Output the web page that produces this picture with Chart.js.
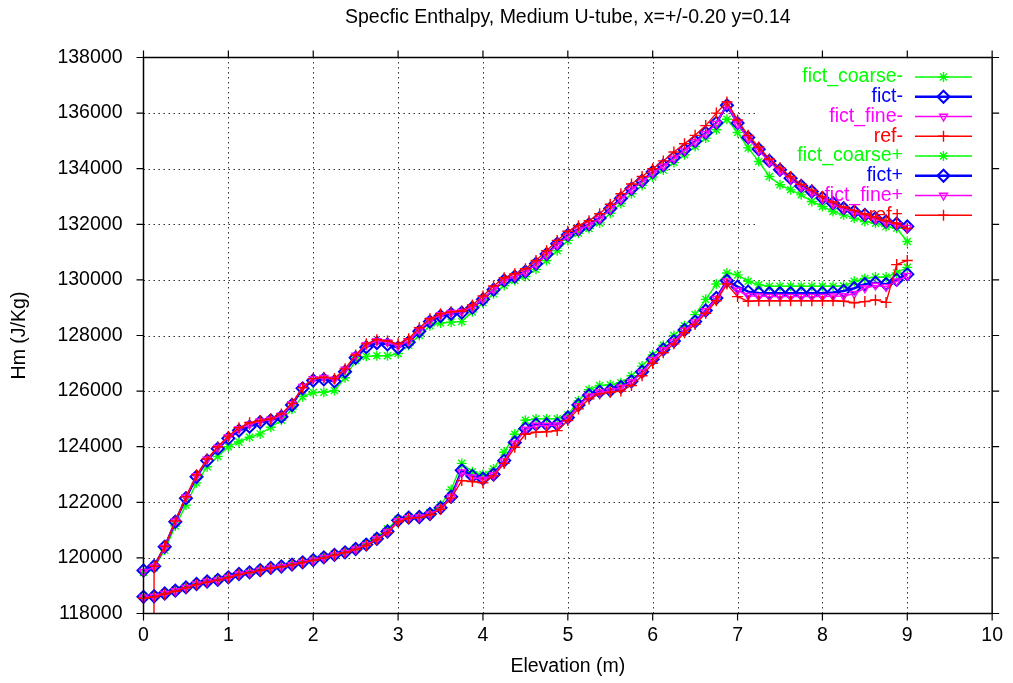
<!DOCTYPE html>
<html>
<head>
<meta charset="utf-8">
<title>Specfic Enthalpy, Medium U-tube</title>
<script src="https://cdn.jsdelivr.net/npm/chart.js@4.4.1/dist/chart.umd.min.js"></script>
<style>
  html, body { margin: 0; padding: 0; background: #fff; }
  #wrap { width: 1013px; height: 683px; }
</style>
</head>
<body>
<div id="wrap"><canvas id="enthalpyChart" width="1013" height="683"></canvas></div>
<script>
const chartTitle = 'Specfic Enthalpy, Medium U-tube, x=+/-0.20 y=0.14';
const xTitle = 'Elevation (m)';
const yTitle = 'Hm (J/Kg)';

const xTicks = [0, 1, 2, 3, 4, 5, 6, 7, 8, 9, 10];
const yTicks = [118000, 120000, 122000, 124000, 126000, 128000, 130000, 132000, 134000, 136000, 138000];

const elevation = [
  0, 0.125, 0.25, 0.375, 0.5, 0.625, 0.75, 0.875,
  1, 1.125, 1.25, 1.375, 1.5, 1.625, 1.75, 1.875,
  2, 2.125, 2.25, 2.375, 2.5, 2.625, 2.75, 2.875,
  3, 3.125, 3.25, 3.375, 3.5, 3.625, 3.75, 3.875,
  4, 4.125, 4.25, 4.375, 4.5, 4.625, 4.75, 4.875,
  5, 5.125, 5.25, 5.375, 5.5, 5.625, 5.75, 5.875,
  6, 6.125, 6.25, 6.375, 6.5, 6.625, 6.75, 6.875,
  7, 7.125, 7.25, 7.375, 7.5, 7.625, 7.75, 7.875,
  8, 8.125, 8.25, 8.375, 8.5, 8.625, 8.75, 8.875,
  9
];

const fictCoarseMinus = [
  119480, 119640, 120280, 121150, 121900, 122700, 123280, 123650,
  124000, 124170, 124340, 124460, 124700, 124950, 125350, 125800,
  125950, 125960, 126020, 126480, 127100, 127250, 127270, 127270,
  127350, 127650, 128000, 128350, 128450, 128480, 128500, 128850,
  129180, 129500, 129800, 129980, 130120, 130380, 130700, 131050,
  131420, 131680, 131850, 132050, 132400, 132750, 133100, 133400,
  133700, 133950, 134220, 134500, 134800, 135100, 135400, 135780,
  135300, 134750, 134260, 133720, 133420, 133240, 133060, 132820,
  132640, 132460, 132340, 132220, 132100, 132040, 131920, 131860,
  131380
];

const fictMinus = [
  119550, 119700, 120400, 121300, 122150, 122920, 123500, 123930,
  124300, 124580, 124720, 124880, 124950, 125080, 125500, 126100,
  126380, 126420, 126350, 126700, 127200, 127580, 127730, 127680,
  127560, 127760, 128150, 128500, 128700, 128780, 128820, 129000,
  129300, 129650, 129980, 130120, 130300, 130580, 130930, 131300,
  131620, 131820, 132000, 132230, 132570, 132930, 133280, 133560,
  133880, 134120, 134400, 134690, 134990, 135290, 135650, 136280,
  135640, 135120, 134700, 134280, 133960, 133660, 133380, 133180,
  132950, 132760, 132580, 132460, 132340, 132220, 132100, 132020,
  131920
];

const fictFineMinus = [
  119500, 119680, 120380, 121320, 122180, 122950, 123540, 123960,
  124350, 124640, 124800, 124920, 124980, 125120, 125540, 126160,
  126440, 126480, 126420, 126780, 127280, 127660, 127800, 127760,
  127620, 127800, 128200, 128540, 128740, 128820, 128860, 129020,
  129320, 129660, 129980, 130120, 130280, 130560, 130900, 131260,
  131580, 131790, 131980, 132200, 132540, 132900, 133250, 133530,
  133850, 134090, 134370, 134660, 134960, 135260, 135620, 136320,
  135600, 135080, 134660, 134240, 133920, 133620, 133340, 133140,
  132910, 132720, 132540, 132420, 132300, 132180, 132060, 131980,
  131880
];

const refMinus = [
  0, 119700, 120420, 121330, 122200, 122980, 123560, 124000,
  124380, 124680, 124860, 124940, 125000, 125180, 125560, 126120,
  126450, 126500, 126450, 126800, 127300, 127700, 127850, 127800,
  127700, 127880, 128280, 128600, 128780, 128850, 128880, 129100,
  129420, 129780, 130080, 130220, 130400, 130700, 131050, 131420,
  131750, 131950, 132130, 132380, 132720, 133100, 133450, 133720,
  134000, 134280, 134600, 134900, 135200, 135550, 136000, 136400,
  135750, 135200, 134780, 134350, 134030, 133720, 133440, 133230,
  133000, 132800, 132620, 132500, 132370, 132250, 132130, 132030,
  131850
];

const fictCoarsePlus = [
  118620, 118650, 118740, 118840, 118960, 119080, 119170, 119240,
  119330, 119440, 119500, 119580, 119660, 119710, 119780, 119860,
  119950, 120050, 120140, 120230, 120350, 120520, 120750, 121050,
  121400, 121480, 121500, 121620, 121900, 122450, 123400, 123100,
  123000, 123200, 123800, 124450, 124950, 125000, 125000, 125000,
  125150, 125650, 126050, 126200, 126230, 126300, 126550, 126900,
  127300, 127650, 128000, 128350, 128750, 129300, 129850, 130250,
  130180, 129950, 129820, 129770, 129770, 129770, 129770, 129770,
  129770, 129770, 129780, 129950, 130050, 130100, 130100, 130250,
  130450
];

const fictPlus = [
  118600, 118620, 118720, 118820, 118940, 119060, 119150, 119210,
  119300, 119420, 119480, 119560, 119640, 119690, 119760, 119840,
  119920, 120020, 120110, 120200, 120320, 120480, 120690, 120950,
  121350, 121450, 121470, 121580, 121800, 122200, 123150, 122950,
  122850, 123000, 123500, 124150, 124650, 124800, 124800, 124800,
  125050, 125500, 125850, 125980, 126030, 126150, 126350, 126700,
  127150, 127500, 127800, 128200, 128500, 128900, 129350, 129970,
  129760, 129580, 129530, 129520, 129520, 129520, 129520, 129520,
  129530, 129550, 129600, 129700, 129850, 129900, 129850, 130000,
  130200
];

const fictFinePlus = [
  118580, 118610, 118710, 118810, 118930, 119050, 119140, 119200,
  119290, 119410, 119470, 119550, 119630, 119680, 119750, 119830,
  119910, 120010, 120100, 120190, 120310, 120470, 120680, 120940,
  121330, 121440, 121460, 121570, 121780, 122180, 123080, 122900,
  122820, 122980, 123480, 124120, 124620, 124760, 124760, 124770,
  125020, 125470, 125820, 125960, 126010, 126130, 126330, 126680,
  127130, 127480, 127780, 128180, 128480, 128880, 129320, 129950,
  129620, 129430, 129410, 129400, 129400, 129400, 129400, 129400,
  129400, 129410, 129420, 129500, 129700, 129800, 129750, 129950,
  130150
];

const refPlus = [
  118550, 118600, 118700, 118800, 118920, 119040, 119130, 119200,
  119290, 119400, 119470, 119550, 119630, 119680, 119750, 119830,
  119910, 120000, 120100, 120190, 120300, 120450, 120650, 120900,
  121300, 121420, 121450, 121550, 121750, 122150, 122780, 122750,
  122700, 122950, 123400, 123980, 124450, 124520, 124540, 124580,
  124940, 125360, 125720, 125900, 125960, 126000, 126200, 126550,
  127000, 127380, 127700, 128100, 128400, 128800, 129250, 129850,
  129400, 129230, 129250, 129250, 129250, 129250, 129250, 129250,
  129250, 129250, 129230, 129180, 129220, 129280, 129190, 130550,
  130700
];

const seriesNames = ['fict_coarse-', 'fict-', 'fict_fine-', 'ref-', 'fict_coarse+', 'fict+', 'fict_fine+', 'ref+'];
const seriesValues = [fictCoarseMinus, fictMinus, fictFineMinus, refMinus, fictCoarsePlus, fictPlus, fictFinePlus, refPlus];

// one look per run type, same for - and +
const looks = [
  { color: '#00ff00', pointStyle: 'star', radius: 5, rotation: 0, lineWidth: 1.4, pointWidth: 1.4 },
  { color: '#0000ff', pointStyle: 'rectRot', radius: 6, rotation: 0, lineWidth: 2.4, pointWidth: 2 },
  { color: '#ff00ff', pointStyle: 'triangle', radius: 4.5, rotation: 180, lineWidth: 1.4, pointWidth: 1.4 },
  { color: '#ff0000', pointStyle: 'cross', radius: 5.5, rotation: 0, lineWidth: 1.4, pointWidth: 1.4 }
];

const FONT_FAMILY = '"Liberation Sans", Arial, Helvetica, sans-serif';
const FONT_SIZE = 19.5;

const datasets = seriesNames.map((name, i) => {
  const look = looks[i % 4];
  return {
    label: name,
    data: elevation.map((x, k) => ({ x: x, y: seriesValues[i][k] })),
    borderColor: look.color,
    backgroundColor: 'rgba(0,0,0,0)',
    borderWidth: look.lineWidth,
    pointStyle: look.pointStyle,
    pointRadius: look.radius,
    pointRotation: look.rotation,
    pointBorderWidth: look.pointWidth,
    pointBorderColor: look.color,
    pointBackgroundColor: 'rgba(0,0,0,0)',
    tension: 0,
    fill: false,
    order: seriesNames.length - 1 - i,
    clip: { left: 10, right: 10, top: 10, bottom: 0 }
  };
});

// key sits in the upper right corner, grid is not drawn under it
const key = { textRight: 903, lineLeft: 915, lineRight: 972, firstRow: 77, rowStep: 19.75, boxLeft: 758, boxBottom: 228 };

function drawMarker(ctx, look, x, y) {
  ctx.save();
  ctx.strokeStyle = look.color;
  ctx.fillStyle = 'rgba(0,0,0,0)';
  ctx.lineWidth = look.pointWidth;
  if (Chart.helpers && Chart.helpers.drawPoint) {
    Chart.helpers.drawPoint(ctx, { pointStyle: look.pointStyle, radius: look.radius, rotation: look.rotation, borderWidth: look.pointWidth }, x, y);
  }
  ctx.restore();
}

const gnuplotFrame = {
  id: 'gnuplotFrame',
  beforeDatasetsDraw(chart) {
    const { ctx, chartArea: a, scales } = chart;
    ctx.save();
    ctx.strokeStyle = '#333';
    ctx.lineWidth = 1;
    ctx.setLineDash([1.5, 3.5]);
    xTicks.slice(1, -1).forEach(v => {
      const px = Math.round(scales.x.getPixelForValue(v)) + 0.5;
      ctx.beginPath();
      ctx.moveTo(px, a.bottom);
      ctx.lineTo(px, a.top);
      ctx.stroke();
    });
    yTicks.slice(1, -1).forEach(v => {
      const py = Math.round(scales.y.getPixelForValue(v)) + 0.5;
      ctx.beginPath();
      ctx.moveTo(a.left, py);
      ctx.lineTo(a.right, py);
      ctx.stroke();
    });
    ctx.restore();

    ctx.save();
    ctx.fillStyle = '#fff';
    ctx.fillRect(key.boxLeft, a.top + 1, a.right - key.boxLeft - 1, key.boxBottom - a.top);
    ctx.restore();
  },
  afterDatasetsDraw(chart) {
    const { ctx } = chart;
    ctx.save();
    ctx.font = FONT_SIZE + 'px ' + FONT_FAMILY;
    ctx.textAlign = 'right';
    ctx.textBaseline = 'middle';
    seriesNames.forEach((name, i) => {
      const look = looks[i % 4];
      const y = key.firstRow + i * key.rowStep;
      ctx.fillStyle = look.color;
      ctx.fillText(name, key.textRight, y);
      ctx.strokeStyle = look.color;
      ctx.lineWidth = look.lineWidth;
      ctx.setLineDash([]);
      ctx.beginPath();
      ctx.moveTo(key.lineLeft, y);
      ctx.lineTo(key.lineRight, y);
      ctx.stroke();
      drawMarker(ctx, look, (key.lineLeft + key.lineRight) / 2, y);
    });
    ctx.restore();
  },
  afterDraw(chart) {
    const { ctx, chartArea: a, scales } = chart;
    const tick = 7;
    ctx.save();
    ctx.strokeStyle = '#000';
    ctx.lineWidth = 1.5;
    ctx.strokeRect(a.left, a.top, a.right - a.left, a.bottom - a.top);
    ctx.lineWidth = 1.2;
    ctx.beginPath();
    xTicks.forEach(v => {
      const px = scales.x.getPixelForValue(v);
      ctx.moveTo(px, a.bottom); ctx.lineTo(px, a.bottom + tick);
      ctx.moveTo(px, a.top); ctx.lineTo(px, a.top - tick);
    });
    yTicks.forEach(v => {
      const py = scales.y.getPixelForValue(v);
      ctx.moveTo(a.left, py); ctx.lineTo(a.left - tick, py);
      ctx.moveTo(a.right, py); ctx.lineTo(a.right + tick, py);
    });
    ctx.stroke();

    ctx.fillStyle = '#000';
    ctx.font = FONT_SIZE + 'px ' + FONT_FAMILY;
    ctx.textAlign = 'center';
    ctx.textBaseline = 'middle';
    ctx.fillText(chartTitle, (a.left + a.right) / 2, 18);
    ctx.restore();
  }
};

const tickFont = { family: FONT_FAMILY, size: FONT_SIZE };

new Chart(document.getElementById('enthalpyChart'), {
  type: 'line',
  data: { datasets: datasets },
  options: {
    responsive: false,
    animation: false,
    devicePixelRatio: 1,
    layout: { padding: { left: 0, right: 18, top: 57.5, bottom: 0 } },
    plugins: {
      legend: { display: false },
      tooltip: { enabled: false }
    },
    scales: {
      x: {
        type: 'linear',
        min: 0,
        max: 10,
        afterBuildTicks: scale => { scale.ticks = xTicks.map(v => ({ value: v })); },
        afterFit: scale => { scale.height = 69.5; },
        ticks: { color: '#000', font: tickFont, padding: 10, maxRotation: 0, autoSkip: false, callback: v => String(v) },
        grid: { display: false, drawTicks: false },
        border: { display: false },
        title: { display: true, text: xTitle, color: '#000', font: tickFont, padding: { top: 0, bottom: 4.3 } }
      },
      y: {
        type: 'linear',
        min: 118000,
        max: 138000,
        afterBuildTicks: scale => { scale.ticks = yTicks.map(v => ({ value: v })); },
        afterFit: scale => { scale.width = 143.5; },
        ticks: { color: '#000', font: tickFont, padding: 21, autoSkip: false, callback: v => String(v) },
        grid: { display: false, drawTicks: false },
        border: { display: false },
        title: { display: true, text: yTitle, color: '#000', font: tickFont, padding: { top: 8.3, bottom: 0 } }
      }
    }
  },
  plugins: [gnuplotFrame]
});
</script>
</body>
</html>
